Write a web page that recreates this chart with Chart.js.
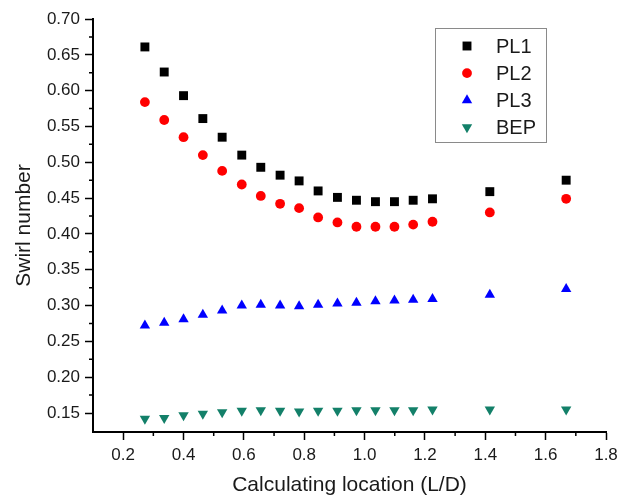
<!DOCTYPE html>
<html>
<head>
<meta charset="utf-8">
<script src="https://cdn.jsdelivr.net/npm/chart.js@4.4.1/dist/chart.umd.min.js"></script>
<style>
  html, body { margin: 0; padding: 0; background: #fff; }
  #wrap { width: 632px; height: 498px; }
</style>
</head>
<body>
<div id="wrap"><canvas id="swirlChart" width="632" height="498"></canvas></div>
<script>
// Calculating location (L/D) and swirl number per case
const locations = [0.272, 0.336, 0.400, 0.464, 0.528, 0.593, 0.656, 0.720, 0.783, 0.846, 0.910, 0.973, 1.036, 1.099, 1.161, 1.225, 1.415, 1.668];
const pl1 = [0.661, 0.626, 0.593, 0.561, 0.535, 0.510, 0.493, 0.482, 0.474, 0.460, 0.451, 0.447, 0.445, 0.445, 0.447, 0.449, 0.459, 0.475];
const pl2 = [0.584, 0.559, 0.535, 0.510, 0.488, 0.469, 0.453, 0.442, 0.436, 0.423, 0.416, 0.410, 0.410, 0.410, 0.413, 0.417, 0.430, 0.449];
const pl3 = [0.272, 0.276, 0.281, 0.287, 0.293, 0.300, 0.301, 0.300, 0.299, 0.301, 0.303, 0.304, 0.306, 0.307, 0.308, 0.309, 0.315, 0.323];
const bep = [0.142, 0.143, 0.147, 0.149, 0.151, 0.153, 0.154, 0.153, 0.152, 0.153, 0.153, 0.154, 0.154, 0.154, 0.154, 0.155, 0.155, 0.155];

const seriesNames = ['PL1', 'PL2', 'PL3', 'BEP'];
const xTickValues = [0.2, 0.4, 0.6, 0.8, 1.0, 1.2, 1.4, 1.6, 1.8];
const xMinorValues = [0.3, 0.5, 0.7, 0.9, 1.1, 1.3, 1.5, 1.7];
const yTickValues = [0.15, 0.20, 0.25, 0.30, 0.35, 0.40, 0.45, 0.50, 0.55, 0.60, 0.65, 0.70];
const yMinorValues = [0.175, 0.225, 0.275, 0.325, 0.375, 0.425, 0.475, 0.525, 0.575, 0.625, 0.675];

const textColor = '#1a1a1a';
const fontFamily = '"Liberation Sans", Arial, sans-serif';

function toPoints(values) {
    return locations.map(function(x, i) { return { x: x, y: values[i] }; });
}

// short outward ticks between the labelled ones
const minorTicks = {
    id: 'minorTicks',
    afterDraw: function(chart) {
        const ctx = chart.ctx;
        const xs = chart.scales.x;
        const ys = chart.scales.y;
        const area = chart.chartArea;
        ctx.save();
        ctx.strokeStyle = '#000';
        ctx.lineWidth = 1.5;
        ctx.beginPath();
        xMinorValues.forEach(function(v) {
            const px = xs.getPixelForValue(v);
            ctx.moveTo(px, area.bottom);
            ctx.lineTo(px, area.bottom + 4);
        });
        yMinorValues.forEach(function(v) {
            const py = ys.getPixelForValue(v);
            ctx.moveTo(area.left, py);
            ctx.lineTo(area.left - 4, py);
        });
        ctx.stroke();
        ctx.restore();
    }
};

// boxed legend inside the plot, top right
const boxLegend = {
    id: 'boxLegend',
    afterDraw: function(chart) {
        const ctx = chart.ctx;
        const left = 435, top = 28, width = 111, height = 114;
        ctx.save();
        ctx.strokeStyle = '#8a8a8a';
        ctx.lineWidth = 1;
        ctx.strokeRect(left + 0.5, top + 0.5, width, height);
        chart.data.datasets.forEach(function(ds, i) {
            const y = 46 + i * 27.1;
            ctx.fillStyle = ds.backgroundColor;
            ctx.strokeStyle = ds.borderColor;
            ctx.lineWidth = 0;
            Chart.helpers.drawPoint(ctx, {
                pointStyle: ds.pointStyle,
                rotation: ds.rotation || 0,
                radius: ds.pointRadius,
                borderWidth: 0
            }, 467, y);
            ctx.fillStyle = textColor;
            ctx.font = '20px ' + fontFamily;
            ctx.textAlign = 'left';
            ctx.textBaseline = 'middle';
            ctx.fillText(ds.label, 496, y + 1);
        });
        ctx.restore();
    }
};

const ctx = document.getElementById('swirlChart');
new Chart(ctx.getContext('2d'), {
    type: 'scatter',
    data: {
        datasets: [
            {
                label: seriesNames[0],
                data: toPoints(pl1),
                pointStyle: 'rect',
                pointRadius: 6.3,
                backgroundColor: '#000000',
                borderColor: '#000000',
                borderWidth: 0
            },
            {
                label: seriesNames[1],
                data: toPoints(pl2),
                pointStyle: 'circle',
                pointRadius: 4.9,
                backgroundColor: '#ff0000',
                borderColor: '#ff0000',
                borderWidth: 0
            },
            {
                label: seriesNames[2],
                data: toPoints(pl3),
                pointStyle: 'triangle',
                pointRadius: 6,
                backgroundColor: '#0000ff',
                borderColor: '#0000ff',
                borderWidth: 0
            },
            {
                label: seriesNames[3],
                data: toPoints(bep),
                pointStyle: 'triangle',
                rotation: 180,
                pointRadius: 6,
                backgroundColor: '#138069',
                borderColor: '#138069',
                borderWidth: 0
            }
        ]
    },
    options: {
        responsive: false,
        animation: false,
        events: [],
        layout: {
            padding: { top: 19, right: 26, left: 0, bottom: 0 }
        },
        plugins: {
            legend: { display: false },
            tooltip: { enabled: false }
        },
        scales: {
            x: {
                type: 'linear',
                min: 0.1,
                max: 1.8,
                afterBuildTicks: function(scale) {
                    scale.ticks = xTickValues.map(function(v) { return { value: v }; });
                },
                afterFit: function(scale) {
                    scale.height = 66;
                },
                border: { display: true, color: '#000', width: 2 },
                grid: {
                    drawOnChartArea: false,
                    drawTicks: true,
                    tickLength: 8,
                    tickColor: '#000',
                    tickWidth: 1.5
                },
                ticks: {
                    padding: 5,
                    color: textColor,
                    font: { family: fontFamily, size: 17 },
                    maxRotation: 0,
                    callback: function(value) { return value.toFixed(1); }
                },
                title: {
                    display: true,
                    text: 'Calculating location (L/D)',
                    color: textColor,
                    font: { family: fontFamily, size: 21 },
                    padding: { top: 0, bottom: 0 }
                }
            },
            y: {
                type: 'linear',
                min: 0.1235,
                max: 0.70,
                afterBuildTicks: function(scale) {
                    scale.ticks = yTickValues.map(function(v) { return { value: v }; });
                },
                afterFit: function(scale) {
                    scale.width = 93;
                },
                border: { display: true, color: '#000', width: 2 },
                grid: {
                    drawOnChartArea: false,
                    drawTicks: true,
                    tickLength: 8,
                    tickColor: '#000',
                    tickWidth: 1.5
                },
                ticks: {
                    padding: 5,
                    color: textColor,
                    font: { family: fontFamily, size: 17 },
                    callback: function(value) { return value.toFixed(2); }
                },
                title: {
                    display: true,
                    text: 'Swirl number',
                    color: textColor,
                    font: { family: fontFamily, size: 21 },
                    padding: { top: 12, bottom: 0 }
                }
            }
        }
    },
    plugins: [minorTicks, boxLegend]
});
</script>
</body>
</html>
